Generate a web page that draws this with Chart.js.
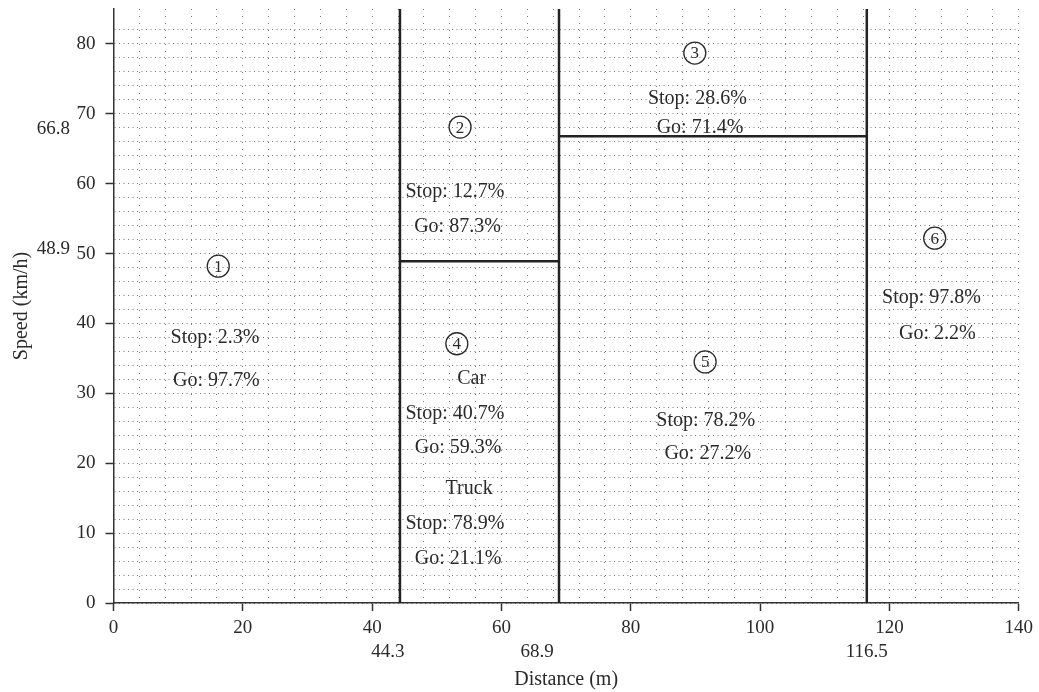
<!DOCTYPE html>
<html>
<head>
<meta charset="utf-8">
<script src="https://cdn.jsdelivr.net/npm/chart.js@4/dist/chart.umd.min.js"></script>
<style>
html,body{margin:0;padding:0;background:#fff;}
#wrap{width:1039px;height:692px;position:relative;}
</style>
</head>
<body>
<div id="wrap"><canvas id="c" width="1039" height="692"></canvas></div>
<script>
// ---- data ----
const xBoundaries = [44.3, 68.9, 116.5];          // distance thresholds (m)
const yBoundaries = [48.9, 66.8];                 // speed thresholds (km/h)
const regionIds   = [1, 2, 3, 4, 5, 6];
const stopPct     = [2.3, 12.7, 28.6, 40.7, 78.2, 97.8];
const goPct       = [97.7, 87.3, 71.4, 59.3, 27.2, 2.2];
const truckStopPct = 78.9;
const truckGoPct   = 21.1;
const xTickLabels = [0, 20, 40, 60, 80, 100, 120, 140];
const yTickLabels = [0, 10, 20, 30, 40, 50, 60, 70, 80];
const xMax = 140, yMax = 85;

// ---- label layout (data coordinates) ----
const labelLayout = [
  {id:[16.2,48.2], lines:[[15.7,38.0],[15.9,31.8]]},
  {id:[53.6,68.1], lines:[[52.8,58.9],[53.2,53.9]]},
  {id:[89.9,78.7], lines:[[90.3,72.1],[90.7,68.0]]},
  {id:[53.1,37.1], lines:[[55.4,32.1],[52.8,27.1],[53.3,22.2],[55.0,16.4],[52.8,11.4],[53.3,6.4]]},
  {id:[91.5,34.5], lines:[[91.6,26.1],[91.9,21.4]]},
  {id:[127.0,52.2], lines:[[126.5,43.7],[127.4,38.6]]}
];
const xExtraNudge = [-12, -22, 0];
const yExtraNudge = [-12, -7];

function regionTexts(i) {
  if (regionIds[i] === 4) {
    return ['Car', 'Stop: ' + stopPct[i].toFixed(1) + '%', 'Go: ' + goPct[i].toFixed(1) + '%',
            'Truck', 'Stop: ' + truckStopPct.toFixed(1) + '%', 'Go: ' + truckGoPct.toFixed(1) + '%'];
  }
  return ['Stop: ' + stopPct[i].toFixed(1) + '%', 'Go: ' + goPct[i].toFixed(1) + '%'];
}

// boundary segments built from thresholds
const segs = [
  [[xBoundaries[0], 0], [xBoundaries[0], yMax]],
  [[xBoundaries[1], 0], [xBoundaries[1], yMax]],
  [[xBoundaries[2], 0], [xBoundaries[2], yMax]],
  [[xBoundaries[0], yBoundaries[0]], [xBoundaries[1], yBoundaries[0]]],
  [[xBoundaries[1], yBoundaries[1]], [xBoundaries[2], yBoundaries[1]]]
];

const FONT = "'Liberation Serif', 'Times New Roman', serif";
const TXT = '#2a2a2a';
const GRID = '#7a7a7a';

const datasets = segs.map(s => ({
  type: 'scatter',
  data: s.map(p => ({x: p[0], y: p[1]})),
  showLine: true,
  borderColor: '#222',
  borderWidth: 2.5,
  pointRadius: 0,
  fill: false
}));

const extrasPlugin = {
  id: 'extras',
  afterDatasetsDraw(chart) {
    const ctx = chart.ctx;
    const xs = chart.scales.x, ys = chart.scales.y;
    ctx.save();
    ctx.fillStyle = TXT;
    ctx.strokeStyle = TXT;
    ctx.textAlign = 'center';
    ctx.textBaseline = 'middle';
    labelLayout.forEach((L, i) => {
      const cx = xs.getPixelForValue(L.id[0]);
      const cy = ys.getPixelForValue(L.id[1]);
      ctx.lineWidth = 1.3;
      ctx.beginPath();
      ctx.arc(cx, cy, 11, 0, Math.PI * 2);
      ctx.stroke();
      ctx.font = '17px ' + FONT;
      ctx.fillText(String(regionIds[i]), cx, cy + 1);
      ctx.font = '20px ' + FONT;
      const t = regionTexts(i);
      L.lines.forEach((p, j) => {
        ctx.fillText(t[j], xs.getPixelForValue(p[0]), ys.getPixelForValue(p[1]));
      });
    });
    ctx.restore();
  },
  afterDraw(chart) {
    const ctx = chart.ctx;
    const xs = chart.scales.x, ys = chart.scales.y;
    ctx.save();
    ctx.fillStyle = TXT;
    ctx.font = '19px ' + FONT;
    ctx.textAlign = 'center';
    ctx.textBaseline = 'middle';
    xBoundaries.forEach((v, i) => {
      ctx.fillText(String(v), xs.getPixelForValue(v) + xExtraNudge[i], 652);
    });
    ctx.textAlign = 'right';
    yBoundaries.forEach((v, i) => {
      ctx.fillText(String(v), 70, ys.getPixelForValue(v) + yExtraNudge[i]);
    });
    ctx.restore();
  }
};

new Chart(document.getElementById('c'), {
  type: 'scatter',
  data: { datasets },
  plugins: [extrasPlugin],
  options: {
    responsive: false,
    animation: false,
    layout: { padding: { top: 0, right: 19.5, left: 0, bottom: 0 } },
    plugins: { legend: { display: false }, tooltip: { enabled: false } },
    scales: {
      x: {
        type: 'linear', min: 0, max: xMax,
        afterFit(s) { s.height = 89; },
        border: { display: true, color: '#333', width: 1.5, dash: [1, 6] },
        grid: {
          color: GRID, lineWidth: 1,
          tickLength: 8, tickWidth: 1.5,
          tickColor: c => xTickLabels.includes(c.tick.value) ? '#333' : 'rgba(0,0,0,0)'
        },
        ticks: {
          stepSize: 4, autoSkip: false, maxRotation: 0, maxTicksLimit: 200,
          padding: 6, color: TXT, font: { family: FONT, size: 19 },
          callback: v => xTickLabels.includes(v) ? String(v) : ''
        },
        title: { display: true, text: 'Distance (m)', color: TXT, font: { family: FONT, size: 20 }, padding: { top: 22, bottom: 0 } }
      },
      y: {
        type: 'linear', min: 0, max: yMax,
        afterFit(s) { s.width = 113.5; s.paddingTop = 9; s.paddingBottom = 0; },
        border: { display: true, color: '#333', width: 1.5, dash: [1, 3.5] },
        grid: {
          color: c => (c.tick && c.tick.value % 2 === 0) ? GRID : 'rgba(0,0,0,0)', lineWidth: 1,
          tickLength: 8, tickWidth: 1.5,
          tickColor: c => yTickLabels.includes(c.tick.value) ? '#333' : 'rgba(0,0,0,0)'
        },
        ticks: {
          stepSize: 2, autoSkip: false, maxTicksLimit: 200,
          padding: 10, color: TXT, font: { family: FONT, size: 19 },
          callback: v => yTickLabels.includes(v) ? String(v) : ''
        },
        title: { display: true, text: 'Speed (km/h)', color: TXT, font: { family: FONT, size: 20 }, padding: { top: 10, bottom: 0 } }
      }
    }
  }
});
</script>
</body>
</html>
